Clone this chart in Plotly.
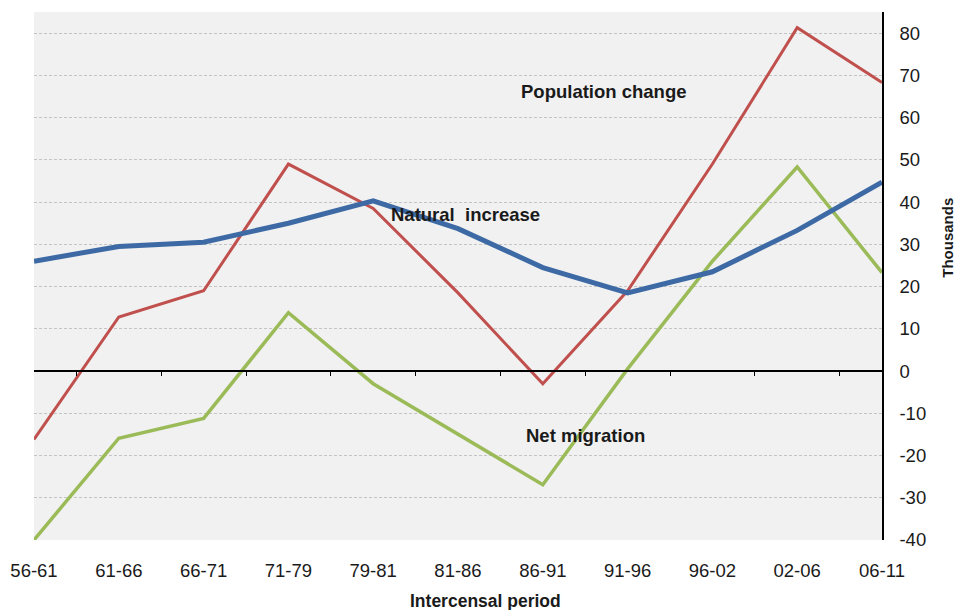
import plotly.graph_objects as go

periods = ["56-61", "61-66", "66-71", "71-79", "79-81", "81-86",
           "86-91", "91-96", "96-02", "02-06", "06-11"]
natural_increase = [26.0, 29.5, 30.5, 35.0, 40.3, 33.7, 24.5, 18.5, 23.5, 33.3, 44.7]
population_change = [-16.2, 12.8, 19.0, 49.0, 38.5, 18.5, -3.0, 19.0, 49.0, 81.3, 68.3]
net_migration = [-40.0, -15.9, -11.2, 13.8, -3.0, -15.0, -26.9, 0.5, 26.0, 48.3, 23.3]
y_ticks = [-40, -30, -20, -10, 0, 10, 20, 30, 40, 50, 60, 70, 80]

Y_MIN, Y_MAX = -40, 85
FONT = "Liberation Sans, Arial, sans-serif"
TXT = "#1a1a1a"

fig = go.Figure()
fig.add_trace(go.Scatter(x=periods, y=population_change, mode="lines",
                         line=dict(color="#C0504D", width=3), name="Population change"))
fig.add_trace(go.Scatter(x=periods, y=net_migration, mode="lines",
                         line=dict(color="#9BBB59", width=3.5), name="Net migration"))
fig.add_trace(go.Scatter(x=periods, y=natural_increase, mode="lines",
                         line=dict(color="#3D6AA5", width=5), name="Natural increase"))

n = len(periods)
zero_pos = (0 - Y_MIN) / (Y_MAX - Y_MIN)

fig.update_layout(
    width=957, height=610,
    margin=dict(l=34, r=75, t=12, b=70, autoexpand=False),
    paper_bgcolor="white",
    plot_bgcolor="#f1f1f1",
    showlegend=False,
    font=dict(family=FONT, size=18, color=TXT),
    xaxis=dict(
        type="category", categoryorder="array", categoryarray=periods,
        range=[0, n - 1], showgrid=False, zeroline=False, showline=False,
        ticks="", ticklabelstandoff=17, automargin=False,
        tickfont=dict(size=18.5, color=TXT),
    ),
    xaxis2=dict(
        overlaying="x", anchor="free", position=zero_pos,
        range=[0, n - 1], showgrid=False, zeroline=False,
        showline=True, linecolor="black", linewidth=1.5,
        tickmode="array", tickvals=[i + 0.5 for i in range(n - 1)],
        ticks="outside", ticklen=4, tickcolor="black", tickwidth=1,
        showticklabels=False, automargin=False,
    ),
    yaxis=dict(
        side="right", range=[Y_MIN, Y_MAX],
        tickmode="array", tickvals=y_ticks, ticktext=[str(v) for v in y_ticks],
        showgrid=True, gridcolor="#c4c4c4", gridwidth=1, griddash="3px,2px",
        zeroline=False, showline=True, linecolor="black", linewidth=1.5,
        ticks="", ticklabelstandoff=12, automargin=False,
        tickfont=dict(size=18.5, color=TXT),
    ),
)

fig.add_trace(go.Scatter(x=[0, n - 1], y=[0, 0], xaxis="x2", mode="lines",
                         line=dict(width=0), hoverinfo="skip", showlegend=False))

labels = [
    ("<b>Population change</b>", 0.672, 0.850),
    ("<b>Natural  increase</b>", 0.509, 0.617),
    ("<b>Net migration</b>", 0.650, 0.197),
]
for text, x, y in labels:
    fig.add_annotation(text=text, xref="paper", yref="paper", x=x, y=y,
                       xanchor="center", yanchor="middle",
                       showarrow=False, font=dict(size=18.5, color=TXT))

fig.add_annotation(text="<b>Intercensal period</b>", xref="paper", yref="paper",
                   x=0.532, y=0, xanchor="center", yanchor="middle", yshift=-61,
                   showarrow=False, font=dict(size=17.5, color=TXT))
fig.add_annotation(text="<b>Thousands</b>", xref="paper", yref="paper",
                   x=1.0775, y=(540 - 238) / 528, xanchor="center", yanchor="middle",
                   textangle=-90, showarrow=False,
                   font=dict(size=15, color=TXT))

fig.write_html("out.html", config={"displayModeBar": False},
               post_script="document.body.style.margin='0';document.body.style.overflow='hidden';")
